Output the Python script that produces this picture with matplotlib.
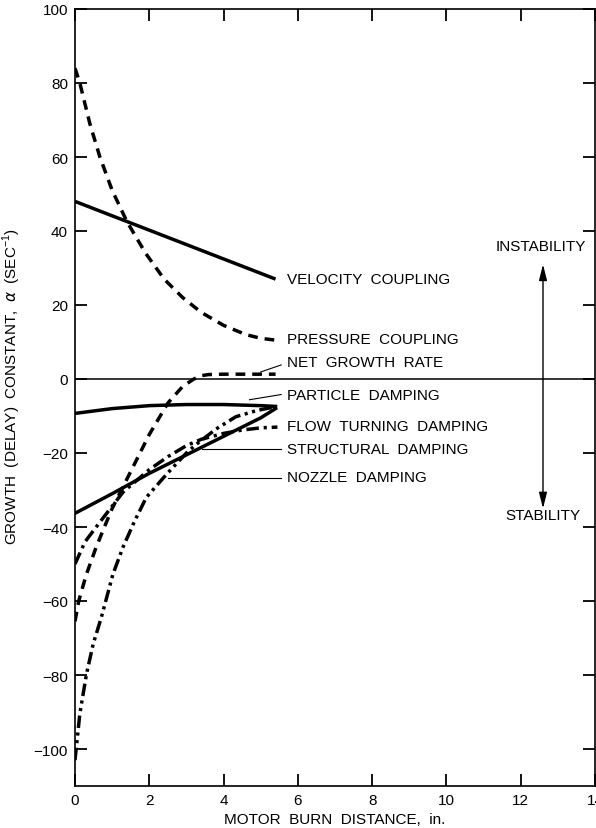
import matplotlib.pyplot as plt
import numpy as np

plt.rcParams['font.family'] = ['Liberation Sans', 'DejaVu Sans']
plt.rcParams['mathtext.fontset'] = 'custom'
plt.rcParams['mathtext.rm'] = 'Liberation Sans'

# burn distance (in.) and growth constants (1/sec) for each contribution
velocity_x = [0.0, 5.4]
velocity_y = [48.0, 27.0]

pressure_x = [0.0, 0.13, 0.4, 0.67, 1.0, 1.4, 1.9, 2.4, 2.9, 3.4, 4.0, 4.6, 5.0, 5.4]
pressure_y = [84.0, 80.0, 69.0, 60.0, 51.0, 42.5, 34.0, 27.0, 22.0, 18.0, 14.5, 12.0, 11.0, 10.5]

net_x = [0.0, 0.1, 0.3, 0.55, 0.75, 1.0, 1.3, 1.6, 2.0, 2.5, 2.9, 3.2, 3.4, 3.6, 4.0, 4.5, 5.0, 5.4]
net_y = [-65.5, -60.0, -53.0, -46.0, -41.0, -35.0, -29.0, -23.0, -15.0, -6.5, -2.0, 0.0, 0.9, 1.2, 1.3, 1.3, 1.3, 1.3]

particle_x = [0.0, 1.0, 2.0, 3.0, 4.0, 5.0, 5.4]
particle_y = [-9.3, -8.0, -7.2, -6.9, -6.9, -7.2, -7.4]

flow_x = [0.0, 0.27, 0.76, 1.3, 2.0, 2.5, 3.0, 3.4, 4.0, 4.5, 5.0, 5.45]
flow_y = [-50.0, -44.0, -37.5, -30.5, -24.5, -21.0, -18.0, -16.3, -14.7, -13.8, -13.2, -13.0]

structural_x = [0.0, 1.0, 2.0, 3.0, 4.0, 5.0, 5.4]
structural_y = [-36.3, -31.0, -25.5, -20.5, -15.5, -10.5, -8.0]

nozzle_x = [0.0, 0.13, 0.31, 0.49, 0.71, 1.02, 1.29, 1.6, 1.92, 2.46, 3.0, 3.26, 3.8, 4.33, 4.9, 5.4]
nozzle_y = [-103.0, -90.5, -79.7, -71.6, -64.4, -52.8, -45.5, -38.5, -32.0, -25.8, -20.0, -17.7, -13.5, -10.2, -8.5, -7.5]

labels = ['VELOCITY  COUPLING', 'PRESSURE  COUPLING', 'NET  GROWTH  RATE',
          'PARTICLE  DAMPING', 'FLOW  TURNING  DAMPING', 'STRUCTURAL  DAMPING',
          'NOZZLE  DAMPING']
label_y = [27.0, 10.8, 4.6, -4.4, -12.8, -19.0, -26.5]

fig = plt.figure(figsize=(5.96, 8.29), dpi=100)
ax = fig.add_axes([75 / 596, 42 / 829, 520 / 596, 777 / 829])

lw = 2.5
dashed = (0, (2.8, 2.0))
ax.plot(velocity_x, velocity_y, color='black', lw=lw, solid_capstyle='butt')
ax.plot(pressure_x, pressure_y, color='black', lw=lw, linestyle=dashed)
ax.plot(net_x, net_y, color='black', lw=lw, linestyle=dashed)
ax.plot(particle_x, particle_y, color='black', lw=lw)
ax.plot(flow_x, flow_y, color='black', lw=lw, linestyle=(0, (3.6, 1.4, 0.9, 1.4)))
ax.plot(structural_x, structural_y, color='black', lw=lw)
ax.plot(nozzle_x, nozzle_y, color='black', lw=lw, linestyle=(0, (3.6, 1.3, 0.9, 1.3, 0.9, 1.3)))

# zero line
ax.axhline(0, color='black', lw=1.1)

# leader lines to the curve labels
ax.plot([5.0, 5.55], [1.9, 3.8], color='black', lw=0.8)
ax.plot([4.7, 5.55], [-5.6, -4.2], color='black', lw=0.8)
ax.plot([3.43, 5.55], [-19.0, -19.0], color='black', lw=0.8)
ax.plot([2.5, 5.55], [-26.7, -26.7], color='black', lw=0.8)

for text, y in zip(labels, label_y):
    ax.text(5.72, y, text, fontsize=11, va='center', ha='left')

# instability / stability arrow
ax.annotate('', xy=(12.6, 31.0), xytext=(12.6, -35.0),
            arrowprops=dict(arrowstyle='<|-|>,head_length=0.8,head_width=0.2',
                            color='black', lw=1.0,
                            mutation_scale=12, shrinkA=0, shrinkB=0))
ax.text(12.55, 36.0, 'INSTABILITY', fontsize=11, ha='center', va='center')
ax.text(12.6, -36.8, 'STABILITY', fontsize=11, ha='center', va='center')

ax.set_xlim(0, 14)
ax.set_ylim(-110, 100)
ax.set_xticks(np.arange(0, 15, 2))
ax.set_yticks(np.arange(-100, 101, 20))
ax.tick_params(direction='in', length=8.5, width=1.3, top=True, right=True,
               labelsize=11, pad=5)
for spine in ax.spines.values():
    spine.set_linewidth(1.2)

ax.set_xlabel('MOTOR  BURN  DISTANCE,  in.', fontsize=11)
ax.set_ylabel(r'GROWTH  (DELAY)  CONSTANT,  $\alpha$  (SEC$^{-1}$)', fontsize=11)
ax.xaxis.set_label_coords(0.5, -0.033)
ax.yaxis.set_label_coords(-0.1, 0.515)

fig.savefig('out.png', dpi=100)
